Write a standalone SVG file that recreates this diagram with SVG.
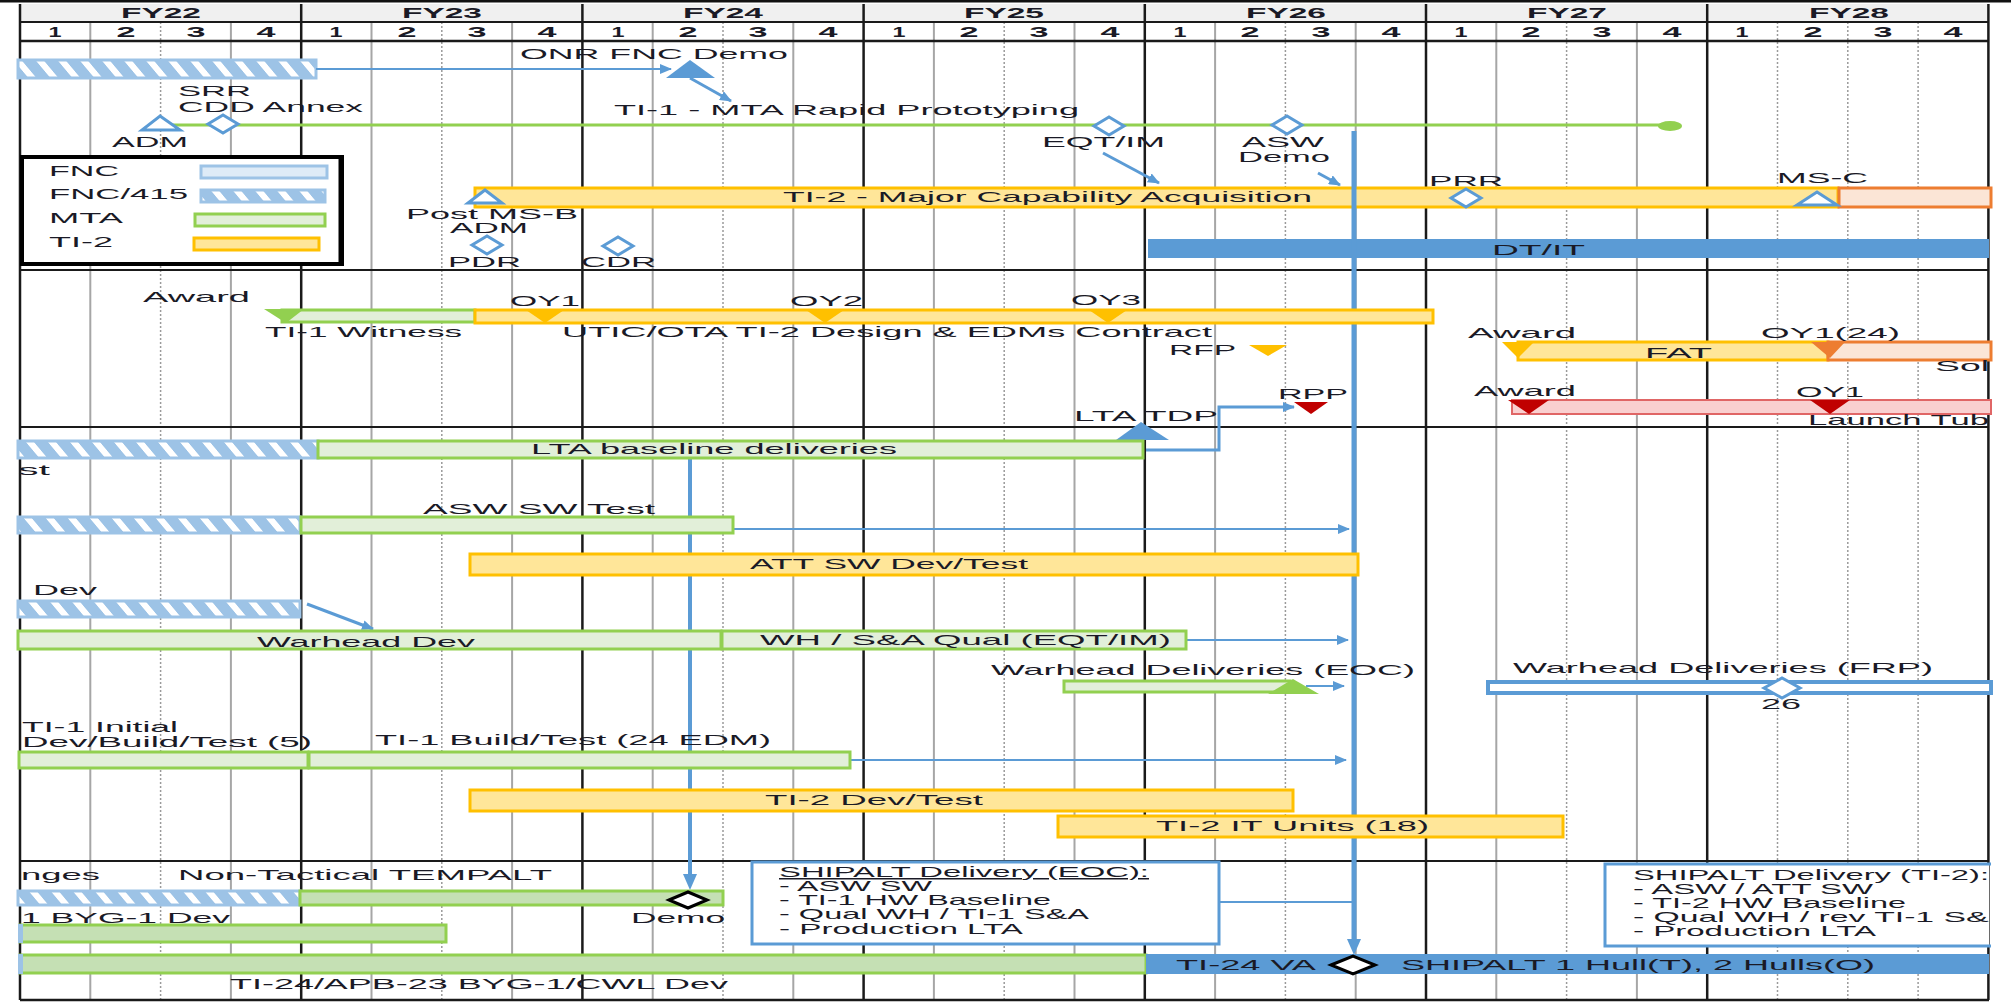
<svg xmlns="http://www.w3.org/2000/svg" width="2011" height="1002" viewBox="0 0 2011 1002">
<style>
text{font-family:"Liberation Sans",Arial,"DejaVu Sans",sans-serif;font-size:15px;fill:#1a1a26}
.h{font-weight:bold}
.s{font-size:13px}
.yl{stroke:#1a1a1a;stroke-width:2.5}
.ql{stroke:#a6a6a6;stroke-width:2}
.qd{stroke:#9a9a9a;stroke-width:1.5;stroke-dasharray:2 2}
.sep{stroke:#1a1a1a;stroke-width:2}
.g{fill:#e2efd9;stroke:#92d050;stroke-width:3}
.g2{fill:#c5e0b4;stroke:#92d050;stroke-width:3}
.y{fill:#ffe699;stroke:#ffc000;stroke-width:3}
.o{fill:#fbe5d6;stroke:#ed7d31;stroke-width:3}
.r{fill:#f9d0d0;stroke:#e06666;stroke-width:2}
.hb{fill:url(#hatch);stroke:#9dc3e6;stroke-width:3}
.fb{fill:#deebf7;stroke:#9dc3e6;stroke-width:3}
.b{fill:#5b9bd5}
.bo{fill:#fff;stroke:#5b9bd5;stroke-width:3}
.kd{fill:#fff;stroke:#000;stroke-width:3}
.c{fill:none;stroke:#5b9bd5;stroke-width:2}
.cw{fill:none;stroke:#5b9bd5;stroke-width:3}
.ty{fill:#ffc000}
.tr{fill:#c00000}
.to{fill:#ed7d31}
.tg{fill:#92d050}
</style>
<defs>
<pattern id="hatch" patternUnits="userSpaceOnUse" width="22" height="20" patternTransform="skewX(40)">
<rect width="22" height="20" fill="#9dc3e6"/>
<rect x="7" width="8" height="20" fill="#fff"/>
</pattern>
<marker id="ah" markerUnits="userSpaceOnUse" markerWidth="12" markerHeight="10" refX="11" refY="5" orient="auto">
<path d="M0,0 L12,5 L0,10 z" fill="#5b9bd5"/>
</marker>
<marker id="ahL" markerUnits="userSpaceOnUse" markerWidth="16" markerHeight="14" refX="6" refY="7" orient="auto">
<path d="M0,0 L16,7 L0,14 z" fill="#5b9bd5"/>
</marker>
<clipPath id="clipR"><rect x="0" y="0" width="1989" height="1002"/></clipPath>
</defs>

<rect width="2011" height="1002" fill="#fff"/>
<rect x="0" y="0" width="2011" height="2.5" fill="#111"/>

<g id="header">
<rect x="20" y="4" width="1969" height="18" fill="#f0f0f0"/>
<g class="h" text-anchor="middle">
<text x="161" y="18" textLength="80" lengthAdjust="spacingAndGlyphs">FY22</text>
<text x="442" y="18" textLength="80" lengthAdjust="spacingAndGlyphs">FY23</text>
<text x="723" y="18" textLength="80" lengthAdjust="spacingAndGlyphs">FY24</text>
<text x="1004" y="18" textLength="80" lengthAdjust="spacingAndGlyphs">FY25</text>
<text x="1286" y="18" textLength="80" lengthAdjust="spacingAndGlyphs">FY26</text>
<text x="1567" y="18" textLength="80" lengthAdjust="spacingAndGlyphs">FY27</text>
<text x="1849" y="18" textLength="80" lengthAdjust="spacingAndGlyphs">FY28</text>
</g>
<g class="h" text-anchor="middle">
<text x="55" y="37" textLength="13" lengthAdjust="spacingAndGlyphs">1</text>
<text x="126" y="37" textLength="19" lengthAdjust="spacingAndGlyphs">2</text>
<text x="196" y="37" textLength="19" lengthAdjust="spacingAndGlyphs">3</text>
<text x="266" y="37" textLength="19" lengthAdjust="spacingAndGlyphs">4</text>
<text x="336" y="37" textLength="13" lengthAdjust="spacingAndGlyphs">1</text>
<text x="407" y="37" textLength="19" lengthAdjust="spacingAndGlyphs">2</text>
<text x="477" y="37" textLength="19" lengthAdjust="spacingAndGlyphs">3</text>
<text x="547" y="37" textLength="19" lengthAdjust="spacingAndGlyphs">4</text>
<text x="618" y="37" textLength="13" lengthAdjust="spacingAndGlyphs">1</text>
<text x="688" y="37" textLength="19" lengthAdjust="spacingAndGlyphs">2</text>
<text x="758" y="37" textLength="19" lengthAdjust="spacingAndGlyphs">3</text>
<text x="828" y="37" textLength="19" lengthAdjust="spacingAndGlyphs">4</text>
<text x="899" y="37" textLength="13" lengthAdjust="spacingAndGlyphs">1</text>
<text x="969" y="37" textLength="19" lengthAdjust="spacingAndGlyphs">2</text>
<text x="1039" y="37" textLength="19" lengthAdjust="spacingAndGlyphs">3</text>
<text x="1110" y="37" textLength="19" lengthAdjust="spacingAndGlyphs">4</text>
<text x="1180" y="37" textLength="13" lengthAdjust="spacingAndGlyphs">1</text>
<text x="1250" y="37" textLength="19" lengthAdjust="spacingAndGlyphs">2</text>
<text x="1321" y="37" textLength="19" lengthAdjust="spacingAndGlyphs">3</text>
<text x="1391" y="37" textLength="19" lengthAdjust="spacingAndGlyphs">4</text>
<text x="1461" y="37" textLength="13" lengthAdjust="spacingAndGlyphs">1</text>
<text x="1531" y="37" textLength="19" lengthAdjust="spacingAndGlyphs">2</text>
<text x="1602" y="37" textLength="19" lengthAdjust="spacingAndGlyphs">3</text>
<text x="1672" y="37" textLength="19" lengthAdjust="spacingAndGlyphs">4</text>
<text x="1742" y="37" textLength="13" lengthAdjust="spacingAndGlyphs">1</text>
<text x="1813" y="37" textLength="19" lengthAdjust="spacingAndGlyphs">2</text>
<text x="1883" y="37" textLength="19" lengthAdjust="spacingAndGlyphs">3</text>
<text x="1953" y="37" textLength="19" lengthAdjust="spacingAndGlyphs">4</text>
</g>
</g>

<g id="grid">
<line class="ql" x1="90.3" y1="22" x2="90.3" y2="1000"/>
<line class="qd" x1="160.6" y1="22" x2="160.6" y2="1000"/>
<line class="ql" x1="230.9" y1="22" x2="230.9" y2="1000"/>
<line class="ql" x1="371.5" y1="22" x2="371.5" y2="1000"/>
<line class="qd" x1="441.8" y1="22" x2="441.8" y2="1000"/>
<line class="ql" x1="512.1" y1="22" x2="512.1" y2="1000"/>
<line class="ql" x1="652.7" y1="22" x2="652.7" y2="1000"/>
<line class="qd" x1="723" y1="22" x2="723" y2="1000"/>
<line class="ql" x1="793.3" y1="22" x2="793.3" y2="1000"/>
<line class="ql" x1="933.9" y1="22" x2="933.9" y2="1000"/>
<line class="qd" x1="1004.2" y1="22" x2="1004.2" y2="1000"/>
<line class="ql" x1="1074.5" y1="22" x2="1074.5" y2="1000"/>
<line class="ql" x1="1215.1" y1="22" x2="1215.1" y2="1000"/>
<line class="qd" x1="1285.4" y1="22" x2="1285.4" y2="1000"/>
<line class="ql" x1="1355.7" y1="22" x2="1355.7" y2="1000"/>
<line class="ql" x1="1496.3" y1="22" x2="1496.3" y2="1000"/>
<line class="qd" x1="1566.6" y1="22" x2="1566.6" y2="1000"/>
<line class="ql" x1="1636.9" y1="22" x2="1636.9" y2="1000"/>
<line class="qd" x1="1777.5" y1="22" x2="1777.5" y2="1000"/>
<line class="qd" x1="1847.8" y1="22" x2="1847.8" y2="1000"/>
<line class="qd" x1="1918.1" y1="22" x2="1918.1" y2="1000"/>
<line class="yl" x1="20" y1="4" x2="20" y2="1000"/>
<line class="yl" x1="301.2" y1="4" x2="301.2" y2="1000"/>
<line class="yl" x1="582.4" y1="4" x2="582.4" y2="1000"/>
<line class="yl" x1="863.6" y1="4" x2="863.6" y2="1000"/>
<line class="yl" x1="1144.8" y1="4" x2="1144.8" y2="1000"/>
<line class="yl" x1="1426" y1="4" x2="1426" y2="1000"/>
<line class="yl" x1="1707.2" y1="4" x2="1707.2" y2="1000"/>
<line class="yl" x1="1988.4" y1="4" x2="1988.4" y2="1000"/>
<line class="sep" x1="20" y1="22" x2="1989" y2="22"/>
<line class="yl" x1="20" y1="41" x2="1989" y2="41"/>
<line class="sep" x1="20" y1="270" x2="1989" y2="270"/>
<line class="sep" x1="20" y1="427" x2="1989" y2="427"/>
<line class="sep" x1="20" y1="861" x2="1989" y2="861"/>
<line class="yl" x1="20" y1="1000" x2="1989" y2="1000"/>
</g>

<g id="legend">
<rect x="22" y="157" width="320" height="107" fill="#fff" stroke="#000" stroke-width="4"/>
<line x1="341" y1="157" x2="341" y2="265" stroke="#000" stroke-width="5"/>
<text x="49" y="176" textLength="70" lengthAdjust="spacingAndGlyphs">FNC</text>
<rect class="fb" x="201" y="166" width="126" height="12"/>
<text x="49" y="199" textLength="139" lengthAdjust="spacingAndGlyphs">FNC/415</text>
<rect class="hb" x="201" y="190" width="124" height="12"/>
<text x="49" y="223" textLength="74" lengthAdjust="spacingAndGlyphs">MTA</text>
<rect class="g" x="195" y="214" width="130" height="12"/>
<text x="49" y="247" textLength="64" lengthAdjust="spacingAndGlyphs">TI-2</text>
<rect class="y" x="194" y="238" width="125" height="12"/>
</g>

<g id="n-fnc415-top"><rect class="hb" x="18" y="60" width="298" height="18"/></g>
<g id="n-onr-demo">
<polygon class="b" points="690,60 715,78 666,78"/>
<text x="520" y="59" textLength="268" lengthAdjust="spacingAndGlyphs">ONR FNC Demo</text>
</g>
<g id="n-mta">
<line x1="170" y1="125" x2="1670" y2="125" stroke="#92d050" stroke-width="3"/>
<ellipse cx="1670" cy="126" rx="12" ry="5" fill="#92d050"/>
<text x="614" y="115" textLength="465" lengthAdjust="spacingAndGlyphs">TI-1 - MTA Rapid Prototyping</text>
</g>
<g id="n-adm1">
<polygon class="bo" points="160,116 180,130 142,130"/>
<text x="112" y="147" textLength="76" lengthAdjust="spacingAndGlyphs">ADM</text>
</g>
<g id="n-srr">
<polygon class="bo" points="208,124 223,115 238,124 223,133"/>
<text x="178" y="96" textLength="73" lengthAdjust="spacingAndGlyphs">SRR</text>
<text x="178" y="112" textLength="185" lengthAdjust="spacingAndGlyphs">CDD Annex</text>
</g>
<g id="n-eqt">
<polygon class="bo" points="1094,126 1109,117 1124,126 1109,135"/>
<text x="1042" y="147" textLength="123" lengthAdjust="spacingAndGlyphs">EQT/IM</text>
</g>
<g id="n-aswdemo">
<polygon class="bo" points="1272,125 1287,116 1302,125 1287,134"/>
<text x="1242" y="147" textLength="82" lengthAdjust="spacingAndGlyphs">ASW</text>
<text x="1238" y="162" textLength="92" lengthAdjust="spacingAndGlyphs">Demo</text>
</g>
<g id="n-ti2-major">
<rect class="y" x="475" y="188" width="1363" height="19"/>
<rect class="o" x="1839" y="188" width="152" height="19"/>
<text x="783" y="202" textLength="529" lengthAdjust="spacingAndGlyphs">TI-2 - Major Capability Acquisition</text>
</g>
<g id="n-postmsb">
<polygon class="bo" points="485,190 502,203 468,203"/>
<text x="406" y="219" textLength="172" lengthAdjust="spacingAndGlyphs">Post MS-B</text>
<text x="450" y="233" textLength="78" lengthAdjust="spacingAndGlyphs">ADM</text>
</g>
<g id="n-pdr">
<polygon class="bo" points="472,245 487,236 502,245 487,254"/>
<text x="448" y="267" textLength="73" lengthAdjust="spacingAndGlyphs">PDR</text>
</g>
<g id="n-cdr">
<polygon class="bo" points="603,246 618,237 633,246 618,255"/>
<text x="581" y="267" textLength="75" lengthAdjust="spacingAndGlyphs">CDR</text>
</g>
<g id="n-prr">
<polygon class="bo" points="1451,198 1466,189 1481,198 1466,207"/>
<text x="1429" y="186" textLength="74" lengthAdjust="spacingAndGlyphs">PRR</text>
</g>
<g id="n-msc">
<polygon class="bo" points="1817,192 1837,205 1797,205"/>
<text x="1777" y="183" textLength="91" lengthAdjust="spacingAndGlyphs">MS-C</text>
</g>
<g id="n-dtit">
<rect class="b" x="1148" y="239" width="841" height="19"/>
<text x="1492" y="255" textLength="93" lengthAdjust="spacingAndGlyphs">DT/IT</text>
</g>

<g id="connectors">
<line class="c" x1="316" y1="69" x2="671" y2="69" marker-end="url(#ah)"/>
<line class="cw" x1="690" y1="78" x2="731" y2="101" marker-end="url(#ah)"/>
<line class="cw" x1="1103" y1="153" x2="1159" y2="183" marker-end="url(#ah)"/>
<line class="cw" x1="1318" y1="173" x2="1340" y2="185" marker-end="url(#ah)"/>
<line x1="1354" y1="131" x2="1354" y2="945" stroke="#5b9bd5" stroke-width="5" marker-end="url(#ahL)"/>
<path class="cw" d="M1146,450 H1219 V407 H1294" marker-end="url(#ah)"/>
<line x1="690" y1="458" x2="690" y2="880" stroke="#5b9bd5" stroke-width="4" marker-end="url(#ahL)"/>
<line class="c" x1="733" y1="529" x2="1349" y2="529" marker-end="url(#ah)"/>
<line class="cw" x1="307" y1="604" x2="373" y2="629" marker-end="url(#ah)"/>
<line class="c" x1="1186" y1="640" x2="1348" y2="640" marker-end="url(#ah)"/>
<line class="c" x1="1306" y1="686" x2="1344" y2="686" marker-end="url(#ah)"/>
<line class="c" x1="850" y1="760" x2="1346" y2="760" marker-end="url(#ah)"/>
<line class="c" x1="1219" y1="902" x2="1354" y2="902"/>
</g>

<g id="n-ti1-witness">
<rect class="g" x="282" y="310" width="193" height="12"/>
<polygon class="tg" points="264,309 304,309 286,323"/>
<text x="143" y="302" textLength="107" lengthAdjust="spacingAndGlyphs">Award</text>
<text x="265" y="337" textLength="197" lengthAdjust="spacingAndGlyphs">TI-1 Witness</text>
</g>
<g id="n-utic">
<rect class="y" x="475" y="310" width="958" height="13"/>
<polygon class="ty" points="526,310 564,310 545,323"/>
<polygon class="ty" points="806,310 844,310 825,323"/>
<polygon class="ty" points="1089,310 1127,310 1108,323"/>
<text x="510" y="306" textLength="70" lengthAdjust="spacingAndGlyphs">OY1</text>
<text x="790" y="306" textLength="73" lengthAdjust="spacingAndGlyphs">OY2</text>
<text x="1071" y="305" textLength="70" lengthAdjust="spacingAndGlyphs">OY3</text>
<text x="562" y="337" textLength="650" lengthAdjust="spacingAndGlyphs">UTIC/OTA TI-2 Design &amp; EDMs Contract</text>
</g>
<g id="n-rfp">
<polygon class="ty" points="1249,345 1287,345 1268,356"/>
<text x="1169" y="355" textLength="67" lengthAdjust="spacingAndGlyphs">RFP</text>
</g>
<g id="n-fat">
<rect class="y" x="1518" y="342" width="310" height="18"/>
<rect class="o" x="1828" y="342" width="163" height="18"/>
<polygon class="ty" points="1502,342 1534,342 1518,358"/>
<polygon class="to" points="1811,342 1845,342 1830,358"/>
<text x="1468" y="338" textLength="108" lengthAdjust="spacingAndGlyphs">Award</text>
<text x="1645" y="358" textLength="67" lengthAdjust="spacingAndGlyphs">FAT</text>
<text x="1761" y="338" textLength="139" lengthAdjust="spacingAndGlyphs">OY1(24)</text>
<text x="1935" y="371" textLength="54" lengthAdjust="spacingAndGlyphs" clip-path="url(#clipR)">Sol</text>
</g>
<g id="n-launch">
<rect class="r" x="1512" y="400" width="479" height="14"/>
<polygon class="tr" points="1508,400 1549,400 1529,414"/>
<polygon class="tr" points="1810,400 1850,400 1830,414"/>
<text x="1474" y="396" textLength="102" lengthAdjust="spacingAndGlyphs">Award</text>
<text x="1796" y="397" textLength="68" lengthAdjust="spacingAndGlyphs">OY1</text>
<text x="1808" y="425" textLength="181" lengthAdjust="spacingAndGlyphs">Launch Tub</text>
</g>
<g id="n-rpp">
<polygon class="tr" points="1294,402 1328,402 1311,414"/>
<text x="1278" y="399" textLength="70" lengthAdjust="spacingAndGlyphs">RPP</text>
</g>
<g id="n-ltatdp">
<polygon class="b" points="1141,422 1169,440 1116,440"/>
<text x="1074" y="421" textLength="144" lengthAdjust="spacingAndGlyphs">LTA TDP</text>
</g>

<g id="n-lta-baseline">
<rect class="hb" x="18" y="441" width="300" height="17"/>
<rect class="g" x="318" y="441" width="825" height="17"/>
<text x="531" y="454" textLength="366" lengthAdjust="spacingAndGlyphs">LTA baseline deliveries</text>
<text x="18" y="475" textLength="32" lengthAdjust="spacingAndGlyphs">st</text>
</g>
<g id="n-asw-sw-test">
<rect class="hb" x="18" y="517" width="282" height="16"/>
<rect class="g" x="301" y="517" width="432" height="16"/>
<text x="423" y="514" textLength="232" lengthAdjust="spacingAndGlyphs">ASW SW Test</text>
</g>
<g id="n-att">
<rect class="y" x="470" y="554" width="888" height="21"/>
<text x="750" y="569" textLength="278" lengthAdjust="spacingAndGlyphs">ATT SW Dev/Test</text>
</g>
<g id="n-wh-fnc">
<rect class="hb" x="18" y="601" width="282" height="16"/>
<text x="33" y="595" textLength="64" lengthAdjust="spacingAndGlyphs">Dev</text>
</g>
<g id="n-warhead-dev">
<rect class="g" x="18" y="631" width="703" height="18"/>
<rect class="g" x="722" y="631" width="464" height="18"/>
<text x="257" y="647" textLength="218" lengthAdjust="spacingAndGlyphs">Warhead Dev</text>
<text x="760" y="645" textLength="411" lengthAdjust="spacingAndGlyphs">WH / S&amp;A Qual (EQT/IM)</text>
</g>
<g id="n-whdel-eoc">
<rect class="g" x="1064" y="681" width="226" height="11"/>
<polygon class="tg" points="1293,679 1319,694 1268,694"/>
<text x="991" y="675" textLength="424" lengthAdjust="spacingAndGlyphs">Warhead Deliveries (EOC)</text>
</g>
<g id="n-whdel-frp">
<rect x="1488" y="682" width="503" height="11" fill="#fff" stroke="#5b9bd5" stroke-width="4"/>
<polygon class="bo" points="1764,688 1782,678 1800,688 1782,698"/>
<text x="1513" y="673" textLength="420" lengthAdjust="spacingAndGlyphs">Warhead Deliveries (FRP)</text>
<text x="1761" y="709" textLength="40" lengthAdjust="spacingAndGlyphs">26</text>
</g>
<g id="n-ti1-build">
<rect class="g" x="19" y="752" width="289" height="16"/>
<rect class="g" x="309" y="752" width="541" height="16"/>
<text x="22" y="732" textLength="156" lengthAdjust="spacingAndGlyphs">TI-1 Initial</text>
<text x="22" y="747" textLength="290" lengthAdjust="spacingAndGlyphs">Dev/Build/Test (5)</text>
<text x="375" y="745" textLength="396" lengthAdjust="spacingAndGlyphs">TI-1 Build/Test (24 EDM)</text>
</g>
<g id="n-ti2-devtest">
<rect class="y" x="470" y="790" width="823" height="21"/>
<text x="765" y="805" textLength="218" lengthAdjust="spacingAndGlyphs">TI-2 Dev/Test</text>
</g>
<g id="n-ti2-it">
<rect class="y" x="1058" y="816" width="505" height="21"/>
<text x="1156" y="831" textLength="273" lengthAdjust="spacingAndGlyphs">TI-2 IT Units (18)</text>
</g>

<g id="n-tempalt">
<rect class="hb" x="18" y="891" width="282" height="14"/>
<rect class="g2" x="300" y="891" width="423" height="14"/>
<polygon class="kd" points="669,900 688,892 707,900 688,908"/>
<text x="21" y="880" textLength="79" lengthAdjust="spacingAndGlyphs">nges</text>
<text x="178" y="880" textLength="374" lengthAdjust="spacingAndGlyphs">Non-Tactical TEMPALT</text>
<text x="631" y="923" textLength="94" lengthAdjust="spacingAndGlyphs">Demo</text>
</g>
<g id="n-byg1">
<rect class="g2" x="20" y="925" width="426" height="17"/>
<rect x="18" y="924" width="5" height="19" fill="#9dc3e6"/>
<text x="21" y="923" textLength="209" lengthAdjust="spacingAndGlyphs">1 BYG-1 Dev</text>
</g>
<g id="n-cwl">
<rect class="g2" x="20" y="955" width="1126" height="18"/>
<rect x="18" y="954" width="5" height="20" fill="#9dc3e6"/>
<rect class="b" x="1146" y="954" width="843" height="20"/>
<polygon class="kd" points="1331,965 1353,956 1375,965 1353,974"/>
<text x="230" y="989" textLength="498" lengthAdjust="spacingAndGlyphs">TI-24/APB-23 BYG-1/CWL Dev</text>
<text x="1176" y="970" textLength="140" lengthAdjust="spacingAndGlyphs">TI-24 VA</text>
<text x="1401" y="970" textLength="474" lengthAdjust="spacingAndGlyphs">SHIPALT 1 Hull(T), 2 Hulls(O)</text>
</g>
<g id="n-box-eoc">
<rect x="752" y="862" width="467" height="82" fill="#fff" stroke="#5b9bd5" stroke-width="3"/>
<g class="s">
<text x="779" y="877" textLength="370" lengthAdjust="spacingAndGlyphs" text-decoration="underline">SHIPALT Delivery (EOC):</text>
<text x="779" y="891" textLength="153" lengthAdjust="spacingAndGlyphs">- ASW SW</text>
<text x="779" y="905" textLength="272" lengthAdjust="spacingAndGlyphs">- TI-1 HW Baseline</text>
<text x="779" y="919" textLength="310" lengthAdjust="spacingAndGlyphs">- Qual WH / TI-1 S&amp;A</text>
<text x="779" y="934" textLength="244" lengthAdjust="spacingAndGlyphs">- Production LTA</text>
</g>
</g>
<g id="n-box-ti2">
<rect x="1605" y="864" width="384" height="82" fill="#fff"/>
<path d="M1991,864 H1605 V946 H1991" fill="none" stroke="#5b9bd5" stroke-width="3"/>
<g class="s" clip-path="url(#clipR)">
<text x="1633" y="880" textLength="356" lengthAdjust="spacingAndGlyphs">SHIPALT Delivery (TI-2):</text>
<text x="1633" y="894" textLength="240" lengthAdjust="spacingAndGlyphs">- ASW / ATT SW</text>
<text x="1633" y="908" textLength="273" lengthAdjust="spacingAndGlyphs">- TI-2 HW Baseline</text>
<text x="1633" y="922" textLength="378" lengthAdjust="spacingAndGlyphs">- Qual WH / rev TI-1 S&amp;A</text>
<text x="1633" y="936" textLength="243" lengthAdjust="spacingAndGlyphs">- Production LTA</text>
</g>
</g>
</svg>
